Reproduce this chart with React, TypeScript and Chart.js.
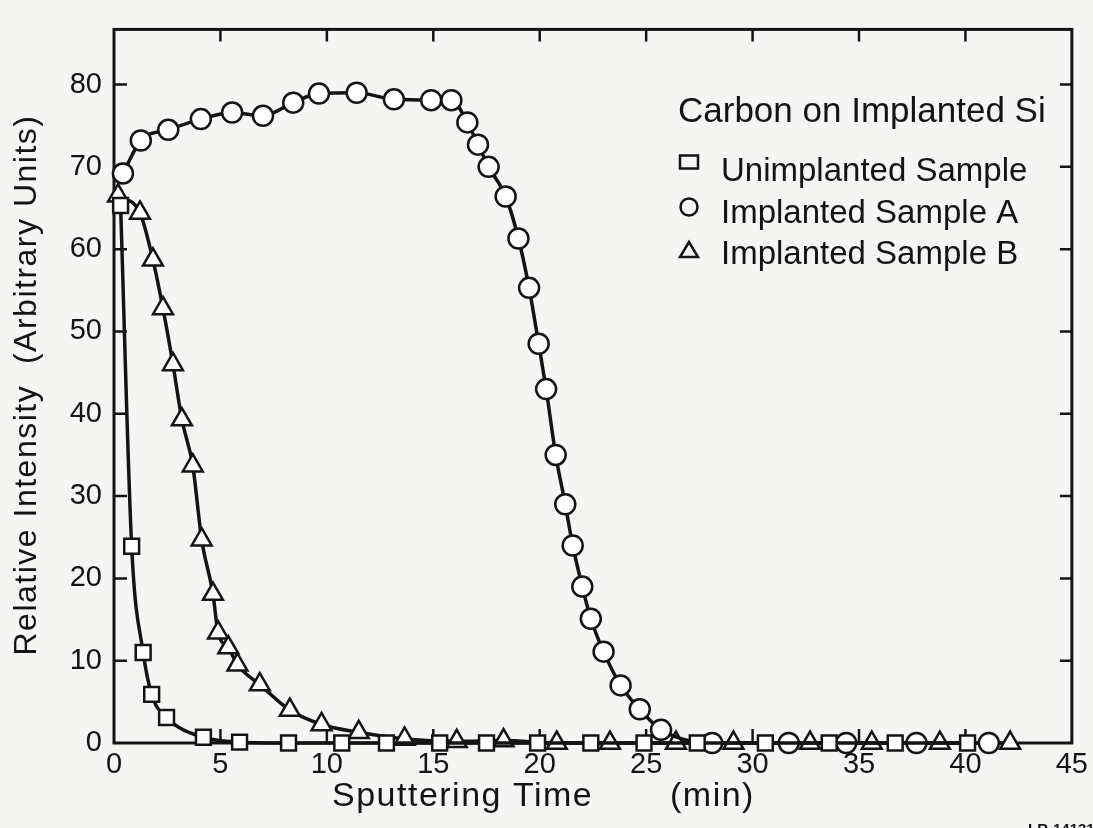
import React, { useEffect, useRef } from 'react';
import { Chart, registerables } from 'chart.js';

Chart.register(...registerables);

// ---- data ----
const unimplantedTime = [0.31, 0.83, 1.37, 1.77, 2.47, 4.2, 5.9, 8.2, 10.7, 12.8, 15.3, 17.5, 19.9, 22.4, 24.9, 27.4, 30.6, 33.6, 36.7, 40.1];
const unimplantedValue = [65.3, 23.9, 11.0, 5.9, 3.1, 0.7, 0.1, 0, 0, 0, 0, 0, 0, 0, 0, 0, 0, 0, 0, 0];

const sampleATime = [0.42, 1.26, 2.55, 4.08, 5.55, 7.0, 8.42, 9.63, 11.4, 13.15, 14.9, 15.85, 16.6, 17.1, 17.6, 18.4, 19.0, 19.5, 19.95, 20.3, 20.75, 21.2, 21.55, 22.0, 22.4, 23.0, 23.8, 24.7, 25.7, 28.1, 31.7, 34.4, 37.7, 41.1];
const sampleAValue = [69.2, 73.2, 74.5, 75.8, 76.6, 76.2, 77.8, 78.9, 79.0, 78.2, 78.1, 78.1, 75.4, 72.7, 70.0, 66.4, 61.3, 55.3, 48.5, 43.0, 35.0, 29.0, 24.0, 19.0, 15.1, 11.1, 7.0, 4.1, 1.6, 0, 0, 0, 0, 0];

const sampleBTime = [0.19, 1.22, 1.83, 2.3, 2.77, 3.19, 3.7, 4.12, 4.65, 4.89, 5.37, 5.8, 6.85, 8.26, 9.75, 11.5, 13.65, 16.1, 18.3, 20.8, 23.3, 26.4, 29.1, 32.7, 35.6, 38.8, 42.1];
const sampleBValue = [66.5, 64.4, 58.7, 52.8, 46.0, 39.3, 33.7, 24.7, 18.1, 13.4, 11.6, 9.5, 7.1, 4.0, 2.25, 1.3, 0.5, 0.2, 0.3, 0, 0, 0, 0, 0, 0, 0, 0];

const seriesNames = ['Unimplanted Sample', 'Implanted Sample A', 'Implanted Sample B'];
const legendTitle = 'Carbon on Implanted Si';
const xTitleMain = 'Sputtering Time';
const xTitleUnit = '(min)';
const yTitle = 'Relative Intensity  (Arbitrary Units)';
const xMajorTicks = [5, 10, 15, 20, 25, 30, 35, 40];
const yMajorTicks = [10, 20, 30, 40, 50, 60, 70, 80];
const figureCode = 'LR-14131';

const FONT = "'Liberation Sans', Arial, sans-serif";
const INK = '#141414';
const PAPER = '#f5f5f3';

const toPoints = (xs: number[], ys: number[]) => xs.map((x, i) => ({ x, y: ys[i] }));

const decorPlugin = {
  id: 'decor',
  beforeDraw(chart: any) {
    const { ctx, width, height } = chart;
    ctx.save();
    ctx.fillStyle = PAPER;
    ctx.fillRect(0, 0, width, height);
    ctx.restore();
  },
  beforeDatasetsDraw(chart: any) {
    const { ctx, chartArea: a, scales } = chart;
    const xs = scales.x;
    const ys = scales.y;
    ctx.save();
    ctx.strokeStyle = INK;
    ctx.lineWidth = 3;
    ctx.strokeRect(a.left, a.top, a.right - a.left, a.bottom - a.top);
    ctx.lineWidth = 2.5;
    ctx.beginPath();
    yMajorTicks.forEach((v) => {
      const py = ys.getPixelForValue(v);
      ctx.moveTo(a.left, py);
      ctx.lineTo(a.left + 13, py);
      ctx.moveTo(a.right, py);
      ctx.lineTo(a.right - 12, py);
    });
    xMajorTicks.forEach((v) => {
      const px = xs.getPixelForValue(v);
      ctx.moveTo(px, a.top);
      ctx.lineTo(px, a.top + 12);
      ctx.moveTo(px, a.bottom);
      ctx.lineTo(px, a.bottom - 14);
    });
    ctx.stroke();
    ctx.restore();
  },
  afterDraw(chart: any) {
    const { ctx } = chart;
    ctx.save();
    ctx.fillStyle = INK;
    ctx.strokeStyle = INK;
    ctx.textBaseline = 'alphabetic';
    ctx.textAlign = 'left';
    // legend
    ctx.font = `35px ${FONT}`;
    ctx.fillText(legendTitle, 678, 122);
    ctx.font = `33px ${FONT}`;
    const rows = [181, 223, 264];
    const marks = [162, 207, 250];
    seriesNames.forEach((name, i) => {
      ctx.fillText(name, 721, rows[i]);
    });
    ctx.lineWidth = 2.5;
    ctx.strokeRect(680, marks[0] - 6.5, 18, 13);
    ctx.beginPath();
    ctx.arc(689, marks[1], 8.5, 0, Math.PI * 2);
    ctx.stroke();
    ctx.beginPath();
    ctx.moveTo(689, marks[2] - 8);
    ctx.lineTo(698, marks[2] + 7);
    ctx.lineTo(680, marks[2] + 7);
    ctx.closePath();
    ctx.stroke();
    // axis titles
    ctx.font = `34px ${FONT}`;
    (ctx as any).letterSpacing = '1.5px';
    ctx.fillText(xTitleMain, 332, 806);
    ctx.fillText(xTitleUnit, 670, 806);
    ctx.save();
    ctx.translate(36, 385);
    ctx.rotate(-Math.PI / 2);
    ctx.textAlign = 'center';
    ctx.font = `32px ${FONT}`;
    ctx.fillText(yTitle, 0, 0);
    ctx.restore();
    (ctx as any).letterSpacing = '0px';
    // figure code (cut at page bottom)
    ctx.font = `bold 15px ${FONT}`;
    ctx.fillText(figureCode, 1028, 834);
    ctx.restore();
  },
};

export default function App() {
  const ref = useRef<HTMLCanvasElement | null>(null);

  useEffect(() => {
    if (!ref.current) return;
    const common = {
      showLine: true,
      borderColor: INK,
      borderWidth: 3.5,
      pointBackgroundColor: '#ffffff',
      pointBorderColor: INK,
      pointBorderWidth: 2.5,
      cubicInterpolationMode: 'monotone' as const,
      clip: false as const,
    };
    const chart = new Chart(ref.current, {
      type: 'scatter',
      data: {
        datasets: [
          { ...common, label: seriesNames[0], data: toPoints(unimplantedTime, unimplantedValue), pointStyle: 'rect', pointRadius: 10.5 },
          { ...common, label: seriesNames[1], data: toPoints(sampleATime, sampleAValue), pointStyle: 'circle', pointRadius: 10 },
          { ...common, label: seriesNames[2], data: toPoints(sampleBTime, sampleBValue), pointStyle: 'triangle', pointRadius: 11.5 },
        ],
      },
      options: {
        responsive: false,
        animation: false,
        layout: { padding: { top: 12, right: 20, left: 0, bottom: 0 } },
        plugins: { legend: { display: false }, tooltip: { enabled: false } },
        scales: {
          x: {
            type: 'linear',
            min: 0,
            max: 45,
            grid: { display: false, drawTicks: false },
            border: { display: false },
            ticks: {
              stepSize: 5,
              color: INK,
              font: { family: FONT, size: 29 },
              padding: 5,
              maxRotation: 0,
            },
            afterFit: (s: any) => { s.height = 85; },
          },
          y: {
            type: 'linear',
            min: 0,
            max: 86.7,
            grid: { display: false, drawTicks: false },
            border: { display: false },
            ticks: {
              stepSize: 10,
              includeBounds: false,
              color: INK,
              font: { family: FONT, size: 29 },
              padding: 12,
            },
            afterFit: (s: any) => { s.width = 114; },
          },
        },
      },
      plugins: [decorPlugin],
    });
    return () => chart.destroy();
  }, []);

  return (
    <div style={{ position: 'fixed', left: 0, top: 0, width: 1093, height: 828 }}>
      <canvas ref={ref} width={1093} height={828} style={{ display: 'block' }} />
    </div>
  );
}
